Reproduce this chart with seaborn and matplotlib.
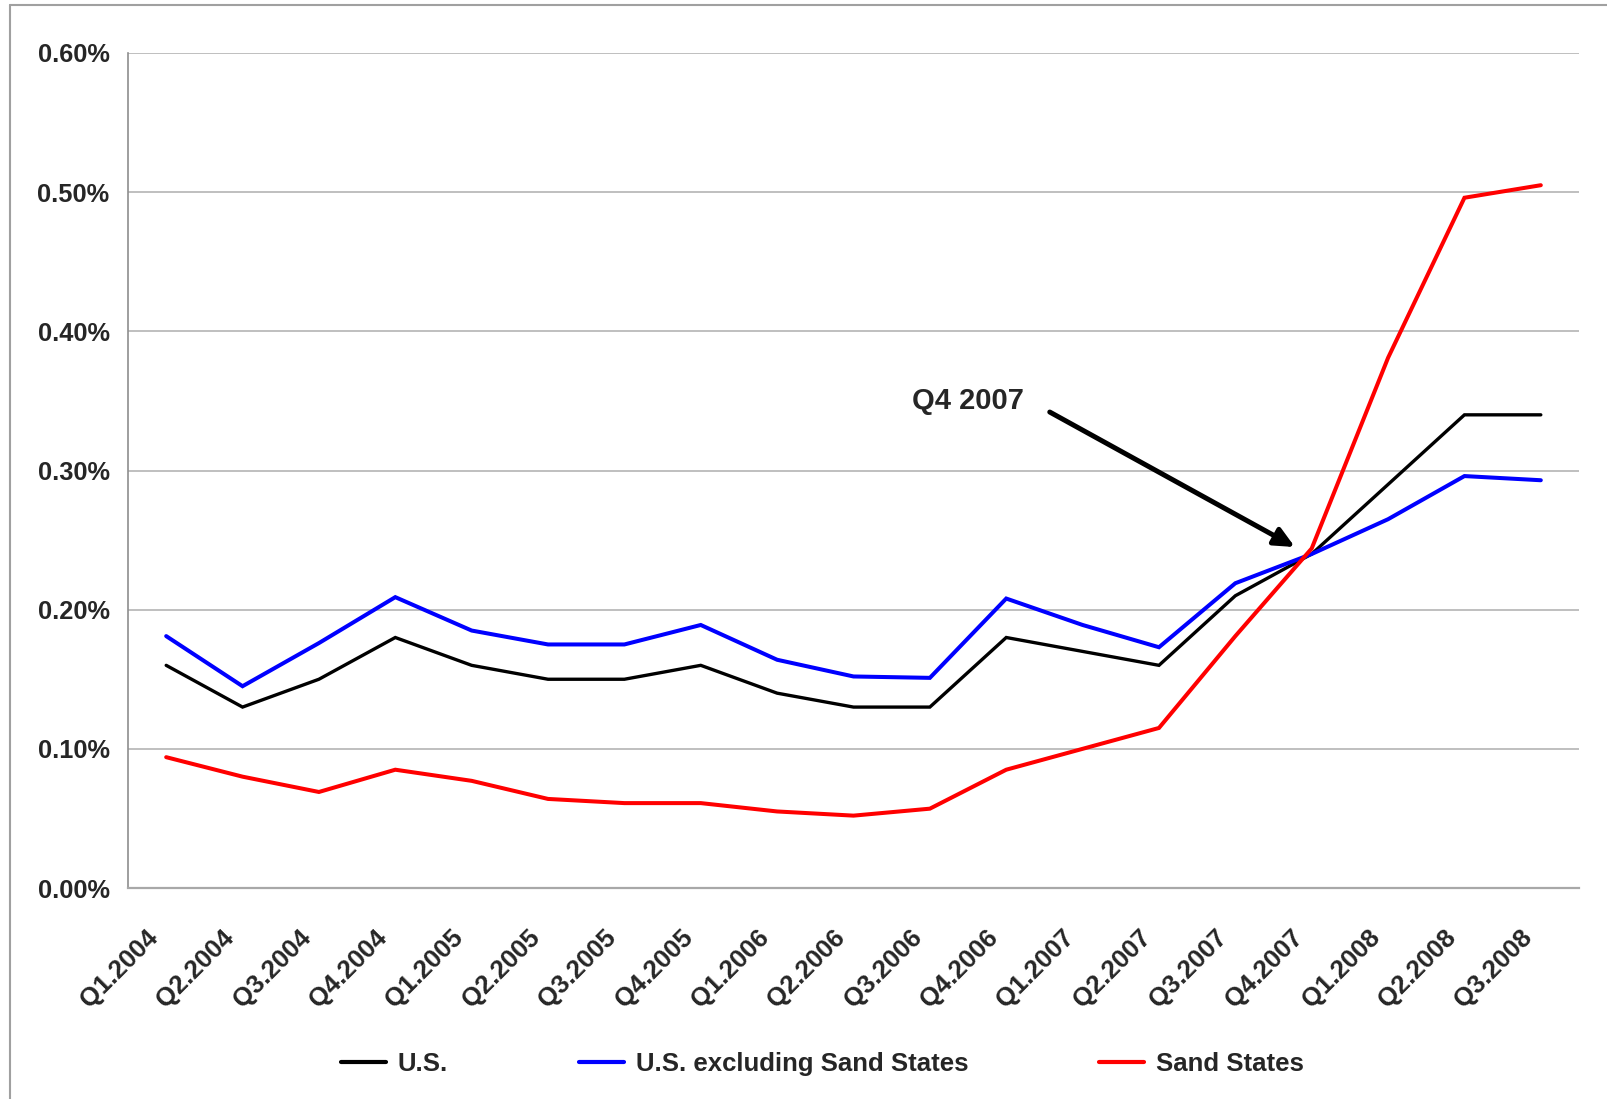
import matplotlib
matplotlib.use("Agg")
import numpy as np
import pandas as pd
import matplotlib.pyplot as plt
import matplotlib.transforms as mtransforms
from matplotlib.lines import Line2D
import seaborn as sns

# Quarterly series (percent)
quarters = ["Q1.2004", "Q2.2004", "Q3.2004", "Q4.2004",
            "Q1.2005", "Q2.2005", "Q3.2005", "Q4.2005",
            "Q1.2006", "Q2.2006", "Q3.2006", "Q4.2006",
            "Q1.2007", "Q2.2007", "Q3.2007", "Q4.2007",
            "Q1.2008", "Q2.2008", "Q3.2008"]
us = [0.160, 0.130, 0.150, 0.180, 0.160, 0.150, 0.150, 0.160, 0.140, 0.130,
      0.130, 0.180, 0.170, 0.160, 0.210, 0.240, 0.290, 0.340, 0.340]
us_ex_sand = [0.181, 0.145, 0.176, 0.209, 0.185, 0.175, 0.175, 0.189, 0.164, 0.152,
              0.151, 0.208, 0.189, 0.173, 0.219, 0.240, 0.265, 0.296, 0.293]
sand_states = [0.094, 0.080, 0.069, 0.085, 0.077, 0.064, 0.061, 0.061, 0.055, 0.052,
               0.057, 0.085, 0.100, 0.115, 0.181, 0.244, 0.381, 0.496, 0.505]
series_names = ["U.S.", "U.S. excluding Sand States", "Sand States"]
series_colors = ["#000000", "#0000ff", "#ff0000"]
y_ticks = [0.0, 0.1, 0.2, 0.3, 0.4, 0.5, 0.6]
callout_text = "Q4 2007"

sns.set_style("white")
plt.rcParams["font.family"] = ["Liberation Sans", "DejaVu Sans"]
plt.rcParams["font.weight"] = "bold"

n = len(quarters)
df = pd.DataFrame({
    "pos": list(range(n)) * 3,
    "rate": us + us_ex_sand + sand_states,
    "series": [s for s in series_names for _ in range(n)],
})

W, H = 1608, 1099
fig = plt.figure(figsize=(W / 100, H / 100), dpi=100)
ax = fig.add_axes([128 / W, 1 - 888 / H, (1579 - 128) / W, (888 - 53) / H])

sns.lineplot(data=df, x="pos", y="rate", hue="series", hue_order=series_names,
             palette=series_colors, linewidth=2.8, sort=False, ax=ax)
for line, lw in zip(ax.lines, [2.4, 2.9, 2.9]):
    line.set_linewidth(lw)
    line.set_solid_joinstyle("miter")

# axes styling
ax.set_xlim(-0.5, n - 0.5)
ax.set_ylim(0, 0.6)
ax.set_xlabel("")
ax.set_ylabel("")
ax.set_yticks(y_ticks)
ax.set_yticklabels([f"{v:.2f}%" for v in y_ticks], fontsize=18.3, fontweight="bold")
ax.yaxis.grid(True, color="#b4b4b4", linewidth=1.2)
ax.xaxis.grid(False)
for side in ["top", "right"]:
    ax.spines[side].set_visible(False)
ax.spines["left"].set_color("#8e8e8e")
ax.spines["left"].set_linewidth(1.2)
ax.spines["bottom"].set_color("#a8a8a8")
ax.spines["bottom"].set_linewidth(1.6)
ax.tick_params(axis="y", length=4.3, width=1.0, color="#8e8e8e", pad=9.0)

ax.set_xticks(range(n))
ax.set_xticklabels(quarters, fontsize=18.5, fontweight="bold")
ax.set_xticks(np.arange(-0.5, n, 1.0), minor=True)
ax.tick_params(axis="x", which="major", length=0, pad=33)
ax.tick_params(axis="x", which="minor", length=6.5, width=1.2, color="#a8a8a8")
shift = mtransforms.ScaledTranslation(-12 / 100, 0, fig.dpi_scale_trans)
for lab in ax.get_xticklabels():
    lab.set_rotation(45)
    lab.set_ha("right")
    lab.set_va("center")
    lab.set_rotation_mode("anchor")
    lab.set_transform(lab.get_transform() + shift)

# callout
ax.text(10.5, 0.350, callout_text, fontsize=21, fontweight="bold",
        ha="center", va="center")
ax.annotate("", xy=(14.78, 0.245), xytext=(11.57, 0.342),
            arrowprops=dict(arrowstyle="-|>,head_length=0.6,head_width=0.28",
                            lw=3.6, color="black", shrinkA=0, shrinkB=0,
                            mutation_scale=20))

# legend
sns.move_legend(ax, "center", bbox_to_anchor=(0.5115, 1 - 1064 / H),
                bbox_transform=fig.transFigure, ncol=3, title=None,
                frameon=False, fontsize=18.5, handlelength=1.75,
                handletextpad=0.45, columnspacing=5.1)
leg = ax.get_legend()
for t in leg.get_texts():
    t.set_fontweight("bold")
for h in leg.legend_handles:
    h.set_linewidth(3.0)

# outer frame (left and top edges)
fig.add_artist(Line2D([10.5 / W, 10.5 / W], [0, 1 - 5 / H], color="#a0a0a0",
                      linewidth=1.5, transform=fig.transFigure))
fig.add_artist(Line2D([10 / W, 1], [1 - 5 / H, 1 - 5 / H], color="#a0a0a0",
                      linewidth=1.5, transform=fig.transFigure))

fig.savefig("out.png", dpi=100)
